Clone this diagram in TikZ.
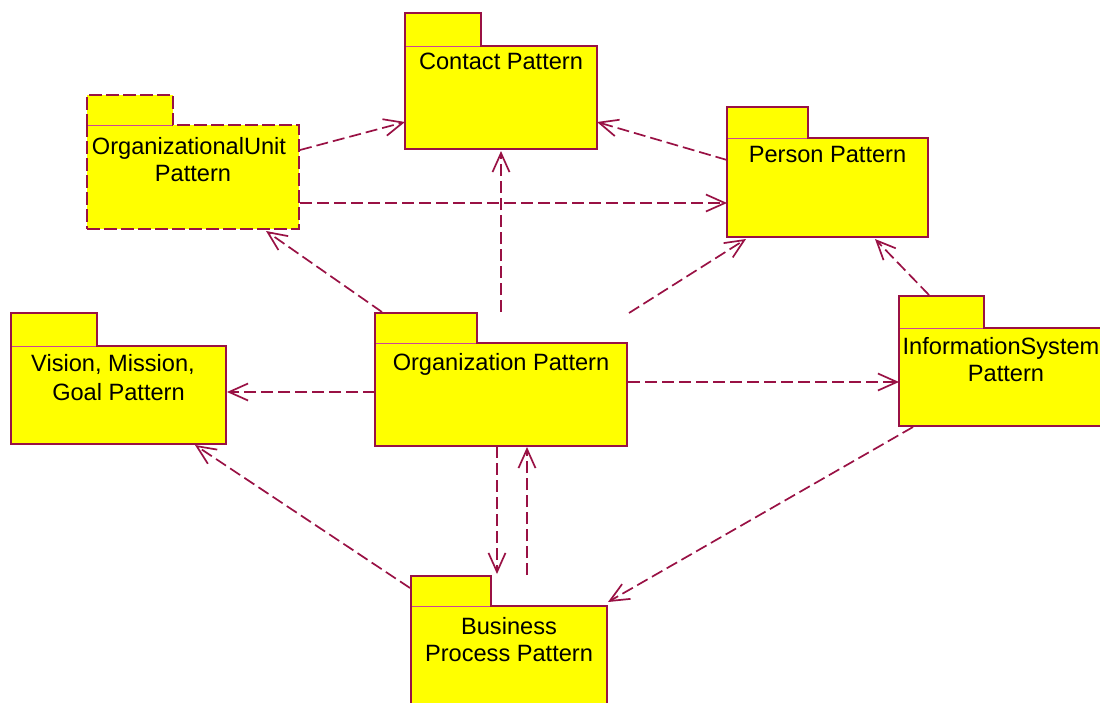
\documentclass[tikz,border=0pt]{standalone}
\usepackage{fontspec}
\setmainfont{Liberation Sans}
\usetikzlibrary{arrows.meta,calc}

\definecolor{pkgline}{RGB}{153,17,68}
\definecolor{pkgfill}{RGB}{255,255,0}
\definecolor{pkgjoin}{RGB}{205,70,150}

\tikzset{
  pkgbase/.style={rectangle, draw=pkgline, fill=pkgfill, line width=1.8pt,
    inner sep=0pt, outer sep=0pt},
  pkgbody/.style={pkgbase, anchor=north west},
  pkgtab/.style={pkgbase, anchor=south west},
  pkgdashed/.style={dash pattern=on 13pt off 4pt},
  pkgtext/.style={anchor=north, inner sep=0pt, align=center,
    font=\fontsize{23.6pt}{27pt}\selectfont},
  dep/.style={draw=pkgline, line width=1.7pt, dash pattern=on 12pt off 5pt,
    -{Straight Barb[length=19pt,width=17pt]}},
}

% #1 name, #2/#3 top-left corner of the body, #4/#5 body size,
% #6/#7 tab size, #8 extra style
\newcommand\umlpackage[8]{%
  \node[pkgtab,#8,minimum width=#6pt,minimum height=#7pt] (#1-tab) at (#2,#3) {};
  \node[pkgbody,#8,minimum width=#4pt,minimum height=#5pt] (#1) at (#2,#3) {};
  \draw[pkgfill, line width=1.8pt]
    ([xshift=0.9pt]#1-tab.south west) -- ([xshift=-0.9pt]#1-tab.south east);
  \draw[pkgjoin, line width=0.7pt]
    ([xshift=0.9pt]#1-tab.south west) -- ([xshift=-0.9pt]#1-tab.south east);
}

\begin{document}
\begin{tikzpicture}[x=1pt,y=-1pt]
\useasboundingbox (0,0) rectangle (1100,702);
\clip (0,0) rectangle (1100,702);

% packages
\umlpackage{contact}{405}{46}{192}{103}{76}{33}{}
\umlpackage{orgunit}{87}{125}{212}{104}{86}{30}{pkgdashed}
\umlpackage{person}{727}{138}{201}{99}{81}{31}{}
\umlpackage{vision}{11}{346}{215}{98}{86}{33}{}
\umlpackage{org}{375}{343}{252}{103}{102}{30}{}
\umlpackage{info}{899}{328}{214}{98}{85}{32}{}
\umlpackage{business}{411}{606}{196}{110}{80}{30}{}

% package names
\node[pkgtext] (contact-name) at ($(contact.north)+(0,7)$) {Contact Pattern};
\node[pkgtext] (orgunit-name) at ($(orgunit.north)+(0,12)$)
  {OrganizationalUnit\hspace*{8pt}\\Pattern};
\node[pkgtext] (person-name) at ($(person.north)+(0,8)$) {Person Pattern};
\node[pkgtext] (vision-name) at ($(vision.north)+(0,8)$)
  {Vision, Mission,\hspace*{11pt}\\[2pt]Goal Pattern};
\node[pkgtext] (org-name) at ($(org.north)+(0,10)$) {Organization Pattern};
\node[pkgtext] (info-name) at ($(info.north)+(0,9)$)
  {InformationSystem\hspace*{10pt}\\Pattern};
\node[pkgtext] (business-name) at ($(business.north)+(0,11)$)
  {Business\\Process Pattern};

% dependencies
\draw[dep] ($(orgunit.north west)+(213,25)$) -- ($(contact.north west)+(0,76)$);
\draw[dep] ($(orgunit.north west)+(213,78)$) -- ($(person.north west)+(0,65)$);
\draw[dep] ($(person.north west)+(0,22)$) -- ($(contact.north west)+(192,76)$);
\draw[dep] ($(org.north west)+(7,-31)$) -- ($(orgunit.north west)+(179,106)$);
\draw[dep] ($(org.north west)+(126,-31)$) -- ($(contact.north west)+(96,105)$);
\draw[dep] ($(org.north west)+(254,-30)$) -- ($(person.north west)+(19,101)$);
\draw[dep] ($(info.north west)+(30,-33)$) -- ($(person.north west)+(148,101)$);
\draw[dep] ($(org.north west)+(0,49)$) -- ($(vision.north west)+(216,46)$);
\draw[dep] ($(org.north west)+(253,39)$) -- ($(info.north west)+(0,54)$);
\draw[dep] ($(org.north west)+(122,103)$) -- ($(business.north west)+(86,-32)$);
\draw[dep] ($(business.north west)+(116,-31)$) -- ($(org.north west)+(152,104)$);
\draw[dep] ($(business.north west)+(-1,-18)$) -- ($(vision.north west)+(184,99)$);
\draw[dep] ($(info.north west)+(14,99)$) -- ($(business.north west)+(197,-4)$);
\end{tikzpicture}
\end{document}
